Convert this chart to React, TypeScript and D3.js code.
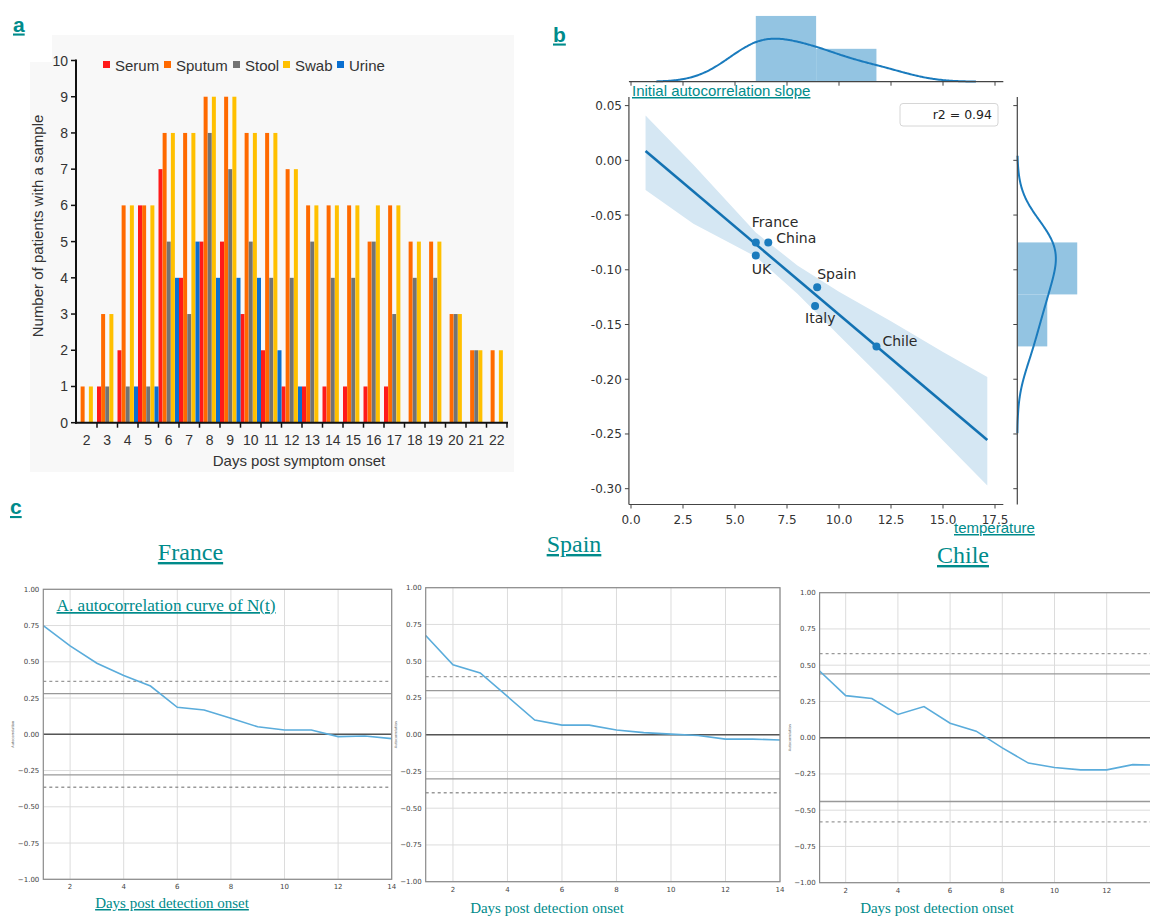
import React from 'react';
import * as d3 from 'd3';

// ---------- panel a data ----------
const days = [2, 3, 4, 5, 6, 7, 8, 9, 10, 11, 12, 13, 14, 15, 16, 17, 18, 19, 20, 21, 22];
const sampleNames = ['Serum', 'Sputum', 'Stool', 'Swab', 'Urine'];
const sampleColors = ['#ff1a1a', '#ff6a00', '#737373', '#ffc000', '#0a6fd0'];
const serum = [0, 1, 2, 6, 7, 4, 5, 5, 3, 2, 1, 1, 1, 1, 1, 1, 0, 0, 0, 0, 0];
const sputum = [1, 3, 6, 6, 8, 8, 9, 9, 8, 8, 7, 6, 6, 6, 5, 6, 5, 5, 3, 2, 2];
const stool = [0, 1, 1, 1, 5, 3, 8, 7, 5, 4, 4, 5, 4, 4, 5, 3, 4, 4, 3, 2, 0];
const swab = [1, 3, 6, 6, 8, 8, 9, 9, 8, 8, 7, 6, 6, 6, 6, 6, 5, 5, 3, 2, 2];
const urine = [0, 0, 1, 1, 4, 5, 4, 4, 4, 2, 1, 0, 0, 0, 0, 0, 0, 0, 0, 0, 0];
const sampleSeries = [serum, sputum, stool, swab, urine];
const yTicksA = [0, 1, 2, 3, 4, 5, 6, 7, 8, 9, 10];

// ---------- panel b data ----------
const countriesB = ['France', 'China', 'UK', 'Spain', 'Italy', 'Chile'];
const temperature = [6.0, 6.6, 6.0, 8.95, 8.85, 11.8];
const slope = [-0.075, -0.075, -0.087, -0.116, -0.133, -0.17];
const labelOffsets = [[-4, -15], [8, 1], [-4, 18], [0, -8], [-10, 17], [6, 0]];
const fitRange = [0.7, 17.13];
const bandX = [0.7, 3, 6, 8, 10, 12.5, 15, 17.13];
const bandHi = [0.041, -0.004, -0.066, -0.096, -0.12, -0.147, -0.175, -0.198];
const bandLo = [-0.027, -0.058, -0.088, -0.122, -0.16, -0.207, -0.256, -0.297];
const xTicksB = [0, 2.5, 5, 7.5, 10, 12.5, 15, 17.5];
const yTicksB = [0.05, 0, -0.05, -0.1, -0.15, -0.2, -0.25, -0.3];

// ---------- panel c data ----------
const lags = [1, 2, 3, 4, 5, 6, 7, 8, 9, 10, 11, 12, 13, 14];
const franceAcf = [0.75, 0.61, 0.49, 0.405, 0.333, 0.186, 0.168, 0.11, 0.052, 0.03, 0.03, -0.016, -0.012, -0.03];
const spainAcf = [0.675, 0.475, 0.42, 0.26, 0.1, 0.065, 0.065, 0.032, 0.014, 0.004, -0.005, -0.03, -0.03, -0.036];
const chileAcf = [0.46, 0.29, 0.27, 0.16, 0.215, 0.1, 0.045, -0.07, -0.175, -0.205, -0.222, -0.222, -0.186, -0.19];
const franceCi = [0.28, 0.365];
const spainCi = [0.3, 0.395];
const chileCi = [0.44, 0.58];
const yTicksC = [1, 0.75, 0.5, 0.25, 0, -0.25, -0.5, -0.75, -1];
const xTicksC = [2, 4, 6, 8, 10, 12, 14];

const W = 1150;
const TEAL = '#008b8b';
const SANS = 'Liberation Sans, Arial, sans-serif';
const DEJAVU = 'DejaVu Sans, sans-serif';
const SERIF = 'Liberation Serif, Times New Roman, serif';
const BLUE = '#1a7bbd';

// ---------- helpers ----------
const kde = (vals: number[]) => {
  const n = vals.length;
  const bw = (d3.deviation(vals) as number) * Math.pow(n, -1 / 5);
  const lo = (d3.min(vals) as number) - 3 * bw;
  const hi = (d3.max(vals) as number) + 3 * bw;
  return d3.range(0, 201).map((i) => {
    const x = lo + ((hi - lo) * i) / 200;
    const dens =
      d3.sum(vals, (v) => Math.exp(-0.5 * ((x - v) / bw) ** 2)) / (n * bw * Math.sqrt(2 * Math.PI));
    return [x, dens] as [number, number];
  });
};

const histo = (vals: number[]) => {
  const lo = d3.min(vals) as number;
  const hi = d3.max(vals) as number;
  const bins = d3.bin().domain([lo, hi]).thresholds([(lo + hi) / 2])(vals);
  return bins.map((b) => ({
    x0: b.x0 as number,
    x1: b.x1 as number,
    dens: b.length / (vals.length * ((b.x1 as number) - (b.x0 as number))),
  }));
};

const fmtC = (v: number) => (v < 0 ? '\u2212' : '') + Math.abs(v).toFixed(2);
const fmtB = (v: number) => (v < 0 ? '-' : '') + Math.abs(v).toFixed(2);

// ---------- Panel A ----------
const PanelA = () => {
  const x = d3.scaleBand<number>().domain(days).range([76.5, 507]);
  const sub = d3.scaleBand<string>().domain(sampleNames).range([0, x.bandwidth()]).paddingInner(0.03);
  const y = d3.scaleLinear().domain([0, 10]).range([422.7, 60.5]);
  const legendX = [103, 164, 233, 283, 337];
  return (
    <g>
      <rect x={52} y={35} width={462} height={30} fill="#f8f8f8" />
      <rect x={30} y={62} width={484} height={410} fill="#f8f8f8" />
      {sampleSeries.map((series, si) =>
        series.map((v, di) =>
          v > 0 ? (
            <rect
              key={`${si}-${di}`}
              x={(x(days[di]) as number) + (sub(sampleNames[si]) as number)}
              y={y(v)}
              width={sub.bandwidth()}
              height={y(0) - y(v)}
              fill={sampleColors[si]}
            />
          ) : null,
        ),
      )}
      <line x1={76} x2={76} y1={y(10) - 1} y2={y(0) + 1} stroke="#111" strokeWidth={2} />
      <line x1={75} x2={508} y1={y(0)} y2={y(0)} stroke="#111" strokeWidth={2} />
      {yTicksA.map((t) => (
        <g key={t}>
          <line x1={71} x2={76} y1={y(t)} y2={y(t)} stroke="#111" strokeWidth={1.5} />
          <text x={68} y={y(t) + 5} textAnchor="end" fontSize={14} fontFamily={SANS} fill="#333">
            {t}
          </text>
        </g>
      ))}
      {days.map((d) => (
        <g key={d}>
          <line
            x1={(x(d) as number) + x.bandwidth()}
            x2={(x(d) as number) + x.bandwidth()}
            y1={y(0)}
            y2={y(0) + 5}
            stroke="#111"
            strokeWidth={1.5}
          />
          <text
            x={(x(d) as number) + x.bandwidth() / 2}
            y={445}
            textAnchor="middle"
            fontSize={14}
            fontFamily={SANS}
            fill="#333"
          >
            {d}
          </text>
        </g>
      ))}
      {sampleNames.map((s, i) => (
        <g key={s}>
          <rect x={legendX[i]} y={61} width={7} height={7} fill={sampleColors[i]} />
          <text x={legendX[i] + 12} y={70.5} fontSize={15} fontFamily={SANS} fill="#333">
            {s}
          </text>
        </g>
      ))}
      <text
        transform="translate(43,226) rotate(-90)"
        textAnchor="middle"
        fontSize={15}
        fontFamily={SANS}
        fill="#333"
      >
        Number of patients with a sample
      </text>
      <text x={299} y={466} textAnchor="middle" fontSize={15} fontFamily={SANS} fill="#333">
        Days post symptom onset
      </text>
    </g>
  );
};

// ---------- Panel B ----------
const PanelB = () => {
  const x = d3.scaleLinear().domain([0, 17.5]).range([631, 995]);
  const y = d3.scaleLinear().domain([0.05, -0.3]).range([105.6, 488.7]);
  const spineL = x(-0.1);
  const spineR = x(17.9);
  const spineT = 97;
  const spineB = 504.5;

  const mx = d3.mean(temperature) as number;
  const my = d3.mean(slope) as number;
  const sxx = d3.sum(temperature, (t) => (t - mx) ** 2);
  const sxy = d3.sum(temperature.map((t, i) => (t - mx) * (slope[i] - my)));
  const b1 = sxy / sxx;
  const b0 = my - b1 * mx;

  const band = d3
    .area<number>()
    .x((_, i) => x(bandX[i]))
    .y0((_, i) => y(bandLo[i]))
    .y1((_, i) => y(bandHi[i]));

  // top marginal
  const topBase = 81.7;
  const yTop = d3.scaleLinear().domain([0, 0.28]).range([topBase, topBase - 80.1]);
  const topHist = histo(temperature);
  const topKde = kde(temperature);
  const topLine = d3
    .line<[number, number]>()
    .x((d) => x(d[0]))
    .y((d) => yTop(d[1]))
    .curve(d3.curveBasis);

  // right marginal
  const rightBase = 1017.3;
  const xRight = d3.scaleLinear().domain([0, 20]).range([rightBase, rightBase + 85.4]);
  const rightHist = histo(slope);
  const rightKde = kde(slope);
  const rightLine = d3
    .line<[number, number]>()
    .x((d) => xRight(d[1]))
    .y((d) => y(d[0]))
    .curve(d3.curveBasis);

  return (
    <g fontFamily={DEJAVU}>
      <path d={band(bandX) || ''} fill="#d5e7f3" />
      <line
        x1={x(fitRange[0])}
        y1={y(b0 + b1 * fitRange[0])}
        x2={x(fitRange[1])}
        y2={y(b0 + b1 * fitRange[1])}
        stroke="#1372b2"
        strokeWidth={2.6}
      />
      {temperature.map((t, i) => (
        <circle key={i} cx={x(t)} cy={y(slope[i])} r={4} fill={BLUE} />
      ))}
      {countriesB.map((c, i) => (
        <text
          key={c}
          x={x(temperature[i]) + labelOffsets[i][0]}
          y={y(slope[i]) + labelOffsets[i][1]}
          fontSize={14}
          fill="#2a2a2a"
        >
          {c}
        </text>
      ))}
      {/* spines */}
      <line x1={spineL} x2={spineL} y1={spineT} y2={spineB} stroke="#444" strokeWidth={1.2} />
      <line x1={spineL} x2={spineR} y1={spineB} y2={spineB} stroke="#444" strokeWidth={1.2} />
      {yTicksB.map((t) => (
        <g key={t}>
          <line x1={spineL - 4} x2={spineL} y1={y(t)} y2={y(t)} stroke="#444" />
          <text x={spineL - 7} y={y(t) + 4.5} textAnchor="end" fontSize={12} fill="#333">
            {fmtB(t)}
          </text>
          <line x1={rightBase - 4} x2={rightBase} y1={y(t)} y2={y(t)} stroke="#444" />
        </g>
      ))}
      {xTicksB.map((t) => (
        <g key={t}>
          <line x1={x(t)} x2={x(t)} y1={spineB} y2={spineB + 4} stroke="#444" />
          <text x={x(t)} y={524} textAnchor="middle" fontSize={12} fill="#333">
            {t.toFixed(1)}
          </text>
          <line x1={x(t)} x2={x(t)} y1={topBase} y2={topBase + 4} stroke="#444" />
        </g>
      ))}
      {/* top marginal */}
      {topHist.map((b, i) => (
        <rect
          key={i}
          x={x(b.x0)}
          y={yTop(b.dens)}
          width={x(b.x1) - x(b.x0)}
          height={topBase - yTop(b.dens)}
          fill="#93c4e2"
        />
      ))}
      <path d={topLine(topKde) || ''} fill="none" stroke={BLUE} strokeWidth={2} />
      <line x1={spineL} x2={spineR} y1={topBase} y2={topBase} stroke="#444" strokeWidth={1.2} />
      {/* right marginal */}
      {rightHist.map((b, i) => (
        <rect
          key={i}
          x={rightBase}
          y={y(b.x1)}
          width={xRight(b.dens) - rightBase}
          height={y(b.x0) - y(b.x1)}
          fill="#93c4e2"
        />
      ))}
      <path d={rightLine(rightKde) || ''} fill="none" stroke={BLUE} strokeWidth={2} />
      <line x1={rightBase} x2={rightBase} y1={spineT} y2={spineB} stroke="#444" strokeWidth={1.2} />
      {/* r2 box */}
      <rect x={900} y={103.5} width={98} height={22.5} rx={3} fill="#fff" stroke="#d6d6d6" />
      <text x={992} y={119} textAnchor="end" fontSize={12.5} fill="#222">
        r2 = 0.94
      </text>
      <text
        x={632}
        y={96}
        fontSize={15}
        fontFamily={SANS}
        fill={TEAL}
        style={{ textDecoration: 'underline' }}
      >
        Initial autocorrelation slope
      </text>
      <text
        x={954}
        y={533}
        fontSize={15}
        fontFamily={SANS}
        fill={TEAL}
        style={{ textDecoration: 'underline' }}
      >
        temperature
      </text>
    </g>
  );
};

// ---------- Panel C ----------
interface AcfProps {
  values: number[];
  ci: number[];
  left: number;
  right: number;
  top: number;
  bottom: number;
}

const AcfPlot: React.FC<AcfProps> = ({ values, ci, left, right, top, bottom }) => {
  const x = d3.scaleLinear().domain([1, 14]).range([left, right]);
  const y = d3.scaleLinear().domain([-1, 1]).range([bottom, top]);
  const line = d3
    .line<number>()
    .x((_, i) => x(lags[i]))
    .y((d) => y(d));
  return (
    <g fontFamily={DEJAVU}>
      {yTicksC.map((t) => (
        <g key={t}>
          <line x1={left} x2={right} y1={y(t)} y2={y(t)} stroke="#dcdcdc" strokeWidth={1} />
          <text x={left - 4} y={y(t) + 2.5} textAnchor="end" fontSize={7} fill="#444">
            {fmtC(t)}
          </text>
        </g>
      ))}
      {xTicksC.map((t) => (
        <g key={t}>
          <line x1={x(t)} x2={x(t)} y1={top} y2={bottom} stroke="#dcdcdc" strokeWidth={1} />
          {x(t) < W - 6 && (
            <text x={x(t)} y={bottom + 10} textAnchor="middle" fontSize={7} fill="#444">
              {t}
            </text>
          )}
        </g>
      ))}
      {[1, -1].map((s) => (
        <g key={s}>
          <line x1={left} x2={right} y1={y(s * ci[0])} y2={y(s * ci[0])} stroke="#999" strokeWidth={1.3} />
          <line
            x1={left}
            x2={right}
            y1={y(s * ci[1])}
            y2={y(s * ci[1])}
            stroke="#999"
            strokeWidth={1.3}
            strokeDasharray="3,3"
          />
        </g>
      ))}
      <line x1={left} x2={right} y1={y(0)} y2={y(0)} stroke="#555" strokeWidth={1.6} />
      <path d={line(values) || ''} fill="none" stroke="#5aacdb" strokeWidth={1.6} />
      <rect x={left} y={top} width={right - left} height={bottom - top} fill="none" stroke="#8a8a8a" strokeWidth={1.2} />
      <text
        transform={`translate(${left - 29},${(top + bottom) / 2}) rotate(-90)`}
        textAnchor="middle"
        fontSize={3.5}
        fill="#666"
      >
        Autocorrelation
      </text>
    </g>
  );
};

const PanelC = () => (
  <g>
    <AcfPlot values={franceAcf} ci={franceCi} left={43.3} right={391.7} top={589.3} bottom={879.3} />
    <AcfPlot values={spainAcf} ci={spainCi} left={425.7} right={780} top={587.7} bottom={881.7} />
    <AcfPlot values={chileAcf} ci={chileCi} left={819.6} right={1158.9} top={592.7} bottom={882.7} />
    <g fontFamily={SERIF} fill={TEAL} style={{ textDecoration: 'underline' }}>
      <text x={190.5} y={560} textAnchor="middle" fontSize={24}>
        France
      </text>
      <text x={574} y={552} textAnchor="middle" fontSize={24}>
        Spain
      </text>
      <text x={963} y={563} textAnchor="middle" fontSize={24}>
        Chile
      </text>
      <text x={56.5} y={611} fontSize={17.2}>
        A. autocorrelation curve of N(t)
      </text>
      <text x={172} y={908} textAnchor="middle" fontSize={15}>
        Days post detection onset
      </text>
    </g>
    <g fontFamily={SERIF} fill={TEAL}>
      <text x={547} y={913} textAnchor="middle" fontSize={15}>
        Days post detection onset
      </text>
      <text x={937} y={913} textAnchor="middle" fontSize={15}>
        Days post detection onset
      </text>
    </g>
  </g>
);

export default function App() {
  return (
    <svg
      width={1150}
      height={916}
      style={{ position: 'absolute', left: 0, top: 0, background: '#fff' }}
    >
      <rect width={1150} height={916} fill="#fff" />
      <PanelA />
      <PanelB />
      <PanelC />
      <g fontFamily={SANS} fontWeight="bold" fontSize={21} fill={TEAL} style={{ textDecoration: 'underline' }}>
        <text x={13} y={31.5}>a</text>
        <text x={553} y={41.5}>b</text>
        <text x={10} y={514}>c</text>
      </g>
    </svg>
  );
}
